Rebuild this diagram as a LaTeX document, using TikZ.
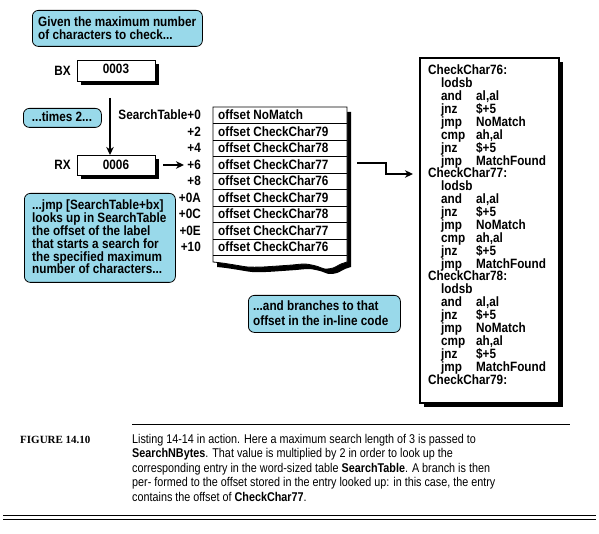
\documentclass[tikz,border=0pt]{standalone}
\usepackage{fontspec}
\setmainfont{Liberation Sans}
\newfontfamily\lblfont{Liberation Sans}[FakeStretch=0.87]
\newfontfamily\capfont{Liberation Sans}[FakeStretch=0.85]
\newfontfamily\figfont{Liberation Serif}
\usetikzlibrary{arrows.meta}
\definecolor{callblue}{RGB}{153,217,234}
\begin{document}
\begin{tikzpicture}[x=1pt,y=-1pt,
  bl/.style={font=\lblfont\fontsize{13.5}{13}\selectfont\bfseries, inner sep=0pt, anchor=base west},
  blr/.style={bl, anchor=base east},
  blc/.style={bl, anchor=base},
  callout/.style={draw=black, fill=callblue, rounded corners=6pt, line width=0.8pt, inner sep=0pt, anchor=north west},
  regbox/.style={draw=black, fill=white, line width=0.8pt, inner sep=0pt, anchor=north west, minimum width=78pt, minimum height=21pt},
  codebox/.style={draw=black, fill=white, line width=1.6pt, inner sep=0pt, anchor=north west},
  shade/.style={fill=black},
  arr/.style={line width=1.3pt, -{Stealth[length=8pt,width=7.5pt,inset=2.5pt]}},
  capt/.style={font=\capfont\fontsize{12.7}{14.5}\selectfont, inner sep=0pt, anchor=base west},
  figt/.style={font=\figfont\fontsize{11}{13}\selectfont\bfseries, inner sep=0pt, anchor=base west},
  rule/.style={line width=0.8pt},
]
\useasboundingbox (0,0) rectangle (599,534);

% ---------- callout 1
\node[callout, minimum width=170pt, minimum height=36pt] (c1) at (32,10) {};
\node[bl] (c1a) at (38,27) {Given the maximum number};
\node[bl] (c1b) at (38,39.5) {of characters to check...};

% ---------- BX register
\fill[shade] (81,64) rectangle (159,85);
\node[regbox] (bx) at (77,60) {};
\node[blc] (bxv) at (116,74) {0003};
\node[blr] (bxl) at (71,76) {BX};

% ---------- times 2 callout
\node[callout, minimum width=78pt, minimum height=19pt] (c2) at (23,108) {};
\node[blc] (c2t) at (62,122) {...times 2...};

% ---------- RX register
\fill[shade] (81,159) rectangle (159,179);
\node[regbox, minimum height=20pt] (rx) at (77,155) {};
\node[blc] (rxv) at (116,170) {0006};
\node[blr] (rxl) at (71,170) {RX};

% vertical arrow BX -> RX
\coordinate (a1s) at (110,98);
\draw[arr] (a1s) -- (a1s |- rx.north);

% ---------- table
\begin{scope}[shift={(4,5)}]
\fill[shade] (213,107) -- (347,107) -- (347,262) -- plot[smooth] coordinates {(347,262) (341,264) (333,268) (325,269) (316,266) (305,264) (292,265) (278,266) (262,267) (248,267) (235,265) (222,263) (213,262)} -- cycle;
\end{scope}
\draw[fill=white, line width=0.8pt] (213,107) -- (347,107) -- (347,262) -- plot[smooth] coordinates {(347,262) (341,264) (333,268) (325,269) (316,266) (305,264) (292,265) (278,266) (262,267) (248,267) (235,265) (222,263) (213,262)} -- cycle;
\foreach \i in {1,...,9}
  \draw[line width=0.8pt] (213,{107+16.5*\i}) -- (347,{107+16.5*\i});
\foreach \off/\ent [count=\i from 0] in {SearchTable+0/NoMatch, +2/CheckChar79, +4/CheckChar78, +6/CheckChar77, +8/CheckChar76, +0A/CheckChar79, +0C/CheckChar78, +0E/CheckChar77, +10/CheckChar76} {
  \node[blr] (off\i) at (201,{120+16.5*\i}) {\off};
  \node[bl] (ent\i) at (218,{120+16.5*\i}) {offset \ent};
}

% arrow RX -> +6
\coordinate (a2s) at (163,165);
\coordinate (a2e) at (184,165);
\draw[arr] (a2s) -- (a2e);

% ---------- callout 3
\node[callout, minimum width=151pt, minimum height=89pt] (c3) at (24,193) {};
\node[bl] (c3a) at (32,210) {...jmp [SearchTable+bx]};
\node[bl] (c3b) at (32,223) {looks up in SearchTable};
\node[bl] (c3c) at (32,236) {the offset of the label};
\node[bl] (c3d) at (32,248.7) {that starts a search for};
\node[bl] (c3e) at (32,261.5) {the specified maximum};
\node[bl] (c3f) at (32,274) {number of characters...};

% ---------- callout 4
\node[callout, minimum width=152pt, minimum height=37pt] (c4) at (248,295) {};
\node[bl] (c4a) at (253,310.5) {...and branches to that};
\node[bl] (c4b) at (253,325) {offset in the in-line code};

% ---------- code box
\fill[shade] (424,62) rectangle (563,407);
\node[codebox, minimum width=139pt, minimum height=345pt] (code) at (419,57) {};
\foreach \b/\nm in {0/76,1/77,2/78} {
  \node[bl] (lab\nm) at (428,{75+12.875*8*\b}) {CheckChar\nm:};
  \node[bl] (lods\nm) at (441,{75+12.875*(8*\b+1)}) {lodsb};
  \foreach \ins/\opr [count=\j from 2] in {and/{al,al}, jnz/{\$+5}, jmp/NoMatch, cmp/{ah,al}, jnz/{\$+5}, jmp/MatchFound} {
    \node[bl] (ins\nm-\j) at (441,{75+12.875*(8*\b+\j)}) {\ins};
    \node[bl] (opr\nm-\j) at (476,{75+12.875*(8*\b+\j)}) {\opr};
  }
}
\node[bl] (lab79) at (428,{75+12.875*24}) {CheckChar79:};

% arrow table -> code
\coordinate (a3s) at (357,163);
\coordinate (a3m) at (386,163);
\coordinate (a3n) at (386,174);
\draw[arr, shorten >=6pt] (a3s) -- (a3m) -- (a3n) -- (code.west |- a3n);

% ---------- caption
\coordinate (r1a) at (132,424);
\coordinate (r1b) at (570,424);
\draw[rule] (r1a) -- (r1b);
\node[figt] (fig) at (20,443) {FIGURE 14.10};
\node[capt] (cap1) at (132,443) {Listing 14-14 in action. Here a maximum search length of 3 is passed to};
\node[capt] (cap2) at (132,457.5) {\textbf{SearchNBytes}. That value is multiplied by 2 in order to look up the};
\node[capt] (cap3) at (132,472) {corresponding entry in the word-sized table \textbf{SearchTable}. A branch is then};
\node[capt] (cap4) at (132,486.5) {per- formed to the offset stored in the entry looked up: in this case, the entry};
\node[capt] (cap5) at (132,501) {contains the offset of \textbf{CheckChar77}.};
\coordinate (d1a) at (3,515.5);
\coordinate (d1b) at (596,515.5);
\coordinate (d2a) at (3,519.5);
\coordinate (d2b) at (596,519.5);
\draw[line width=1.2pt] (d1a) -- (d1b);
\draw[line width=1.2pt] (d2a) -- (d2b);
\end{tikzpicture}
\end{document}
